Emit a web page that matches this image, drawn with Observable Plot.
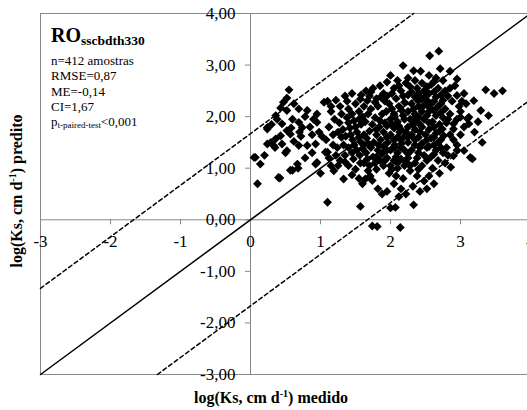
<!DOCTYPE html>
<html><head><meta charset="utf-8">
<script src="https://cdn.jsdelivr.net/npm/d3@7"></script>
<script src="https://cdn.jsdelivr.net/npm/@observablehq/plot@0.6"></script>
<style>body{margin:0;background:#fff} svg{display:block} svg text, svg tspan{font-family:"Liberation Serif","Times New Roman",serif !important}</style>
</head><body><div id="chart"></div>
<script>
const samples = [
 [0.07,1.21],[0.14,1.08],[0.10,0.70],[0.24,1.79],[0.24,1.47],[0.42,0.81],[0.57,0.96],[0.68,1.00],
 [0.55,2.52],[0.52,2.36],[0.43,2.17],[0.52,2.12],[0.36,2.02],[0.45,1.86],[0.24,1.76],[0.69,1.89],
 [0.74,1.79],[0.52,1.73],[0.57,1.66],[0.43,1.63],[0.36,1.57],[0.29,1.50],[0.33,1.44],[0.45,1.47],
 [0.52,1.34],[0.69,1.44],[0.81,1.44],[0.70,1.70],[0.05,1.21],[0.67,1.08],[0.69,2.15],[0.81,2.12],
 [0.93,1.47],[0.60,0.96],[0.40,0.82],[1.00,0.90],[0.78,1.20],[0.50,1.30],[0.20,1.25],[0.62,2.25],
 [0.47,2.28],[0.38,1.95],[0.30,1.85],[0.60,1.95],[0.85,1.80],[0.90,1.95],[0.95,2.05],[0.72,1.62],
 [0.88,1.65],[0.98,1.70],[0.93,1.08],[0.88,1.30],[0.58,1.78],[0.35,1.40],[0.62,1.52],[0.78,2.00],
 [1.05,2.28],[1.10,2.30],[1.15,2.10],[1.20,1.95],[1.12,1.80],[1.25,1.70],[1.08,1.55],[1.18,1.45],
 [1.07,1.31],[1.22,1.25],[1.28,1.15],[1.15,1.05],[1.19,0.95],[1.30,2.05],[1.27,1.88],[1.02,1.62],
 [1.24,1.40],[1.33,0.79],[1.10,0.34],[1.30,1.60],[1.28,2.20],[0.95,1.89],[0.95,1.11],[1.10,1.31],
 [1.35,2.40],[1.45,2.45],[1.57,2.34],[1.50,2.25],[1.40,2.15],[1.55,2.10],[1.38,1.98],[1.48,1.92],
 [1.58,1.85],[1.42,1.78],[1.52,1.70],[1.36,1.62],[1.46,1.55],[1.58,1.50],[1.40,1.40],[1.52,1.35],
 [1.35,1.25],[1.47,1.18],[1.57,1.10],[1.40,1.05],[1.50,0.98],[1.45,0.87],[1.57,0.26],[1.60,0.70],
 [1.55,0.80],[1.38,2.30],[1.60,2.00],[1.43,1.65],[1.56,1.25],[1.33,1.45],
 [1.67,2.31],[1.65,2.50],[1.75,2.55],[1.85,2.60],[1.70,2.40],[1.80,2.35],[1.90,2.45],[1.62,2.20],
 [1.72,2.15],[1.82,2.20],[1.68,2.05],[1.78,1.98],[1.88,2.05],[1.64,1.90],[1.74,1.85],[1.84,1.80],
 [1.70,1.72],[1.80,1.65],[1.90,1.70],[1.66,1.58],[1.76,1.50],[1.86,1.55],[1.72,1.40],[1.82,1.35],
 [1.90,1.42],[1.65,1.30],[1.75,1.22],[1.85,1.15],[1.70,1.05],[1.80,0.98],[1.90,1.05],[1.64,0.79],
 [1.74,0.76],[1.71,0.85],[1.82,0.60],[1.74,-0.12],[1.81,-0.13],[1.88,0.50],[1.68,0.95],[1.78,1.10],
 [1.88,1.28],[1.62,1.45],
 [1.95,2.67],[2.10,2.70],[2.00,2.80],[2.18,2.99],[2.05,2.55],[2.15,2.50],[1.95,2.40],[2.08,2.35],
 [2.18,2.40],[1.98,2.25],[2.12,2.20],[2.20,2.28],[1.94,2.10],[2.05,2.05],[2.16,2.12],[2.00,1.95],
 [2.10,1.90],[2.20,1.95],[1.95,1.82],[2.05,1.78],[2.15,1.75],[2.00,1.65],[2.10,1.60],[2.20,1.62],
 [1.96,1.50],[2.06,1.45],[2.16,1.48],[2.00,1.35],[2.10,1.30],[2.20,1.35],[1.95,1.20],[2.05,1.15],
 [2.15,1.18],[2.00,1.05],[2.10,1.00],[2.20,1.05],[1.98,0.90],[2.08,0.85],[2.18,0.80],[2.05,0.70],
 [2.15,0.60],[2.00,0.23],[2.07,0.24],[2.14,-0.15],[2.12,0.45],[1.95,0.55],[2.02,2.15],[2.13,1.70],
 [2.08,1.22],
 [2.33,2.89],[2.43,2.88],[2.25,2.75],[2.35,2.70],[2.45,2.65],[2.28,2.58],[2.38,2.55],[2.48,2.50],
 [2.25,2.42],[2.35,2.38],[2.45,2.35],[2.30,2.25],[2.40,2.20],[2.50,2.25],[2.25,2.10],[2.35,2.05],
 [2.45,2.10],[2.28,1.95],[2.38,1.90],[2.48,1.95],[2.25,1.80],[2.35,1.75],[2.45,1.80],[2.30,1.65],
 [2.40,1.60],[2.50,1.65],[2.25,1.50],[2.35,1.45],[2.45,1.48],[2.30,1.35],[2.40,1.30],[2.48,1.25],
 [2.25,1.20],[2.35,1.10],[2.45,1.05],[2.28,0.95],[2.38,0.85],[2.48,0.75],[2.32,0.65],[2.42,0.55],
 [2.33,0.29],[2.22,0.50],[2.50,2.40],[2.42,1.70],[2.32,1.85],
 [2.56,3.18],[2.69,3.27],[2.71,2.93],[2.55,2.80],[2.65,2.75],[2.75,2.70],[2.58,2.62],[2.68,2.55],
 [2.78,2.50],[2.55,2.45],[2.65,2.38],[2.75,2.32],[2.58,2.25],[2.68,2.20],[2.78,2.15],[2.55,2.10],
 [2.65,2.02],[2.75,1.98],[2.60,1.90],[2.70,1.85],[2.80,1.88],[2.55,1.75],[2.74,1.76],[2.65,1.68],
 [2.76,1.63],[2.58,1.58],[2.68,1.50],[2.55,1.42],[2.65,1.35],[2.75,1.30],[2.58,1.22],[2.68,1.15],
 [2.78,1.10],[2.60,1.00],[2.70,0.90],[2.55,0.85],[2.62,0.70],[2.52,0.60],[2.80,1.40],
 [2.85,2.88],[2.95,2.73],[2.95,2.41],[2.85,2.55],[3.05,2.45],[2.88,2.30],[2.98,2.20],[3.08,2.25],
 [2.85,2.05],[3.00,1.99],[3.10,1.96],[2.90,1.86],[2.90,1.76],[3.05,1.80],[2.90,1.55],[2.86,1.02],
 [3.05,1.34],[2.90,1.24],[2.95,1.45],[3.00,1.65],[2.85,1.65],[3.12,1.99],[3.12,1.86],
 [3.19,2.31],[3.36,2.52],[3.48,2.45],[3.60,2.50],[3.29,2.12],[3.40,2.02],[3.14,1.21],[3.17,1.18],
 [3.31,1.50],[3.20,1.70],[3.25,1.90],
 [1.45,2.05],[1.55,1.95],[1.50,1.80],[1.62,1.65],[1.55,1.60],[1.68,1.48],[1.60,1.38],[1.67,1.18],
 [1.62,1.10],[1.58,2.42],[1.72,2.48],[1.78,2.28],[1.86,2.38],[1.92,2.30],[1.85,1.92],[1.92,1.88],
 [1.80,1.75],[1.95,1.60],[1.83,1.45],[1.95,1.35],[1.80,1.22],[1.92,1.15],
 [2.02,2.45],[2.12,2.60],[2.22,2.65],[2.06,2.00],[2.18,2.02],[2.02,1.85],[2.12,1.82],[2.22,1.70],
 [2.05,1.55],[2.15,1.55],[2.25,1.60],[2.05,1.40],[2.15,1.40],[2.25,1.28],[2.10,1.10],[2.22,1.12],
 [2.02,0.98],[2.28,1.05],
 [2.30,2.48],[2.40,2.45],[2.52,2.58],[2.40,2.30],[2.52,2.32],[2.33,2.15],[2.45,2.18],[2.55,2.18],
 [2.40,2.00],[2.52,2.02],[2.33,1.97],[2.42,1.85],[2.55,1.88],[2.35,1.55],[2.52,1.55],[2.42,1.40],
 [2.52,1.40],[2.38,1.20],[2.52,1.15],[2.40,0.98],[2.62,2.68],[2.62,2.48],[2.72,2.42],[2.62,2.30],
 [2.72,2.25],[2.62,2.12],[2.72,2.08],[2.62,1.80],[2.70,1.72],[2.62,1.60],[2.72,1.55],[2.62,1.45],
 [2.72,1.40],[2.62,1.27],
 [1.15,2.20],[1.22,2.32],[1.18,1.65],[1.12,1.20],[1.25,1.05],[1.35,1.12],[1.40,1.88],[1.32,1.75],
 [1.45,1.30],[1.48,1.45],
 [2.82,2.40],[2.92,2.60],[3.02,2.30],[2.82,1.95],[2.95,1.95],[2.82,1.25],[2.95,1.35],[3.00,2.10]
];
const domain = [-3, 4];
const ci = 1.67;
const xTicks = [-3, -2, -1, 0, 1, 2, 3, 4];
const xTickLabels = ["-3", "-2", "-1", "0", "1", "2", "3", "4"];
const yTicks = [-3, -2, -1, 0, 1, 2, 3, 4];
const yTickLabels = ["-3,00", "-2,00", "-1,00", "0,00", "1,00", "2,00", "3,00", "4,00"];
const statLines = ["n=412 amostras", "RMSE=0,87", "ME=-0,14", "CI=1,67"];

const [lo, hi] = domain;
const oneToOne = [{x: lo, y: lo}, {x: hi, y: hi}];
const upper = [{x: lo, y: lo + ci}, {x: hi - ci, y: hi}];
const lower = [{x: lo + ci, y: lo}, {x: hi, y: hi - ci}];
const serif = "Liberation Serif";
const gray = "#888";

const chart = Plot.plot({
  width: 527, height: 410,
  marginLeft: 40, marginTop: 13, marginBottom: 36, marginRight: -3,
  x: {domain, axis: null},
  y: {domain, axis: null},
  style: {fontFamily: serif, background: "white", color: "black"},
  marks: [
    Plot.frame({stroke: gray}),
    Plot.ruleX([0], {stroke: gray}),
    Plot.ruleY([0], {stroke: gray}),
    Plot.ruleX(xTicks, {x: d => d, y1: 0, y2: 0, insetBottom: -5, stroke: gray}),
    Plot.ruleY(yTicks, {y: d => d, x1: 0, x2: 0, insetLeft: -5, stroke: gray}),
    Plot.text(xTicks, {x: d => d, y: 0, text: (d, i) => xTickLabels[i], dy: 22, fontSize: 17, fontFamily: serif, textAnchor: "middle", fill: "black"}),
    Plot.text(yTicks, {x: 0, y: d => d, text: (d, i) => yTickLabels[i], dx: -15, fontSize: 17, fontFamily: serif, textAnchor: "end", fill: "black"}),
    Plot.line(oneToOne, {x: "x", y: "y", stroke: "black", strokeWidth: 1.5}),
    Plot.line(upper, {x: "x", y: "y", stroke: "black", strokeWidth: 1.5, strokeDasharray: "4,3"}),
    Plot.line(lower, {x: "x", y: "y", stroke: "black", strokeWidth: 1.5, strokeDasharray: "4,3"}),
    Plot.dot(samples, {x: d => d[0], y: d => d[1], symbol: "diamond2", r: 4, fill: "black"})
  ]
});
document.getElementById("chart").appendChild(chart);

const svg = d3.select(chart);
// x title
const xt = svg.append("text").attr("x", 271).attr("y", 403).attr("text-anchor", "middle")
  .attr("font-family", serif).attr("font-weight", "bold").attr("font-size", 16).attr("fill", "black");
xt.append("tspan").text("log(Ks, cm d");
xt.append("tspan").attr("font-size", 10).attr("dy", -6).text("-1");
xt.append("tspan").attr("dy", 6).text(") medido");
// y title
const yt = svg.append("text").attr("transform", "translate(22,191) rotate(-90)").attr("text-anchor", "middle")
  .attr("font-family", serif).attr("font-weight", "bold").attr("font-size", 16).attr("fill", "black");
yt.append("tspan").text("log(Ks, cm d");
yt.append("tspan").attr("font-size", 10).attr("dy", -6).text("-1");
yt.append("tspan").attr("dy", 6).text(") predito");
// annotation
const ro = svg.append("text").attr("x", 51).attr("y", 42).attr("text-anchor", "start").attr("font-family", serif)
  .attr("font-weight", "bold").attr("font-size", 20).attr("fill", "black");
ro.append("tspan").text("RO");
ro.append("tspan").attr("font-size", 13.5).attr("dy", 3).text("sscbdth330");
statLines.forEach((s, i) => {
  svg.append("text").attr("x", 51).attr("y", 65 + i * 15.3).attr("text-anchor", "start").attr("font-family", serif)
    .attr("font-size", 13).attr("fill", "black").text(s);
});
const pt = svg.append("text").attr("x", 51).attr("y", 126).attr("text-anchor", "start").attr("font-family", serif)
  .attr("font-size", 13).attr("fill", "black");
pt.append("tspan").text("p");
pt.append("tspan").attr("font-size", 9).attr("dy", 2).text("t-paired-test");
pt.append("tspan").attr("dy", -2).text("<0,001");
</script></body></html>
